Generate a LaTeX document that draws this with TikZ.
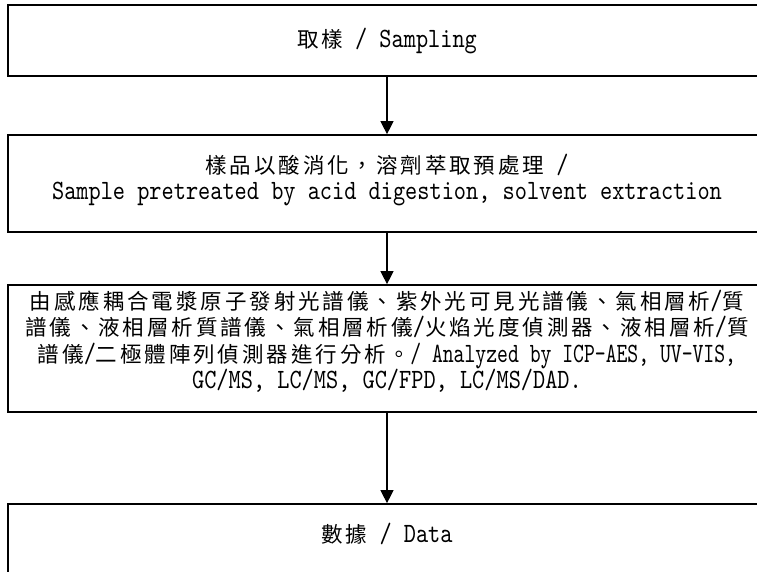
\documentclass[tikz,border=0pt]{standalone}
\usepackage{fontspec}
\newfontfamily\zhfont{Noto Sans CJK TC}[LetterSpace=13.5]
\newfontfamily\enfont{lmmono10-regular.otf}[FakeStretch=0.83,Scale=1.30]
\newfontfamily\enfontn{lmmono10-regular.otf}[FakeStretch=0.74,Scale=1.30]
\newcommand\myzh[1]{{\zhfont #1}}
\newcommand\myen[1]{{\enfont #1}}
\newcommand\myenn[1]{{\enfontn #1}}
\usetikzlibrary{arrows.meta}
\tikzset{
  stepbox/.style={draw=black, line width=1.7pt, minimum width=758pt, inner sep=0pt},
  steptext/.style={inner sep=0pt, align=center, font=\zhfont\fontsize{21.5}{26.5}\selectfont},
  flow/.style={line width=1.2pt, -{Triangle[length=13pt,width=13pt]}}
}
\begin{document}
\begin{tikzpicture}[x=1pt,y=-1pt]
\useasboundingbox (0,0) rectangle (757,571);
\clip (0,0) rectangle (757,571);
% boxes
\node[stepbox, minimum height=71pt]  (b1) at (387,40.5)  {};
\node[stepbox, minimum height=97pt]  (b2) at (387,183.5) {};
\node[stepbox, minimum height=127pt] (b3) at (387,348.5) {};
\node[stepbox, minimum height=76pt]  (b4) at (387,542)   {};
% texts
\node[steptext] (t1) at (387,41) {\myzh{取樣}\myen{ / Sampling}};
\node[steptext] (t2) at (387,180)
  {\myzh{樣品以酸消化，溶劑萃取預處理}\myen{ /}\\
   \myen{Sample pretreated by acid digestion, solvent extraction}};
\node[steptext] (t3) at (387,341)
  {\myzh{由感應耦合電漿原子發射光譜儀、紫外光可見光譜儀、氣相層析}\myen{/}\myzh{質}\\
   \myzh{譜儀、液相層析質譜儀、氣相層析儀}\myen{/}\myzh{火焰光度偵測器、液相層析}\myen{/}\myzh{質}\\
   \myzh{譜儀}\myen{/}\myzh{二極體陣列偵測器進行分析。}\myenn{/ Analyzed by ICP-AES, UV-VIS,}\\
   \myen{GC/MS, LC/MS, GC/FPD, LC/MS/DAD.}};
\node[steptext] (t4) at (387,534) {\myzh{數據}\myen{ / Data}};
% connectors
\draw[flow] (b1.south) -- (b2.north);
\draw[flow] (b2.south) -- (b3.north);
\draw[flow] (b3.south) -- (b4.north);
\end{tikzpicture}
\end{document}
